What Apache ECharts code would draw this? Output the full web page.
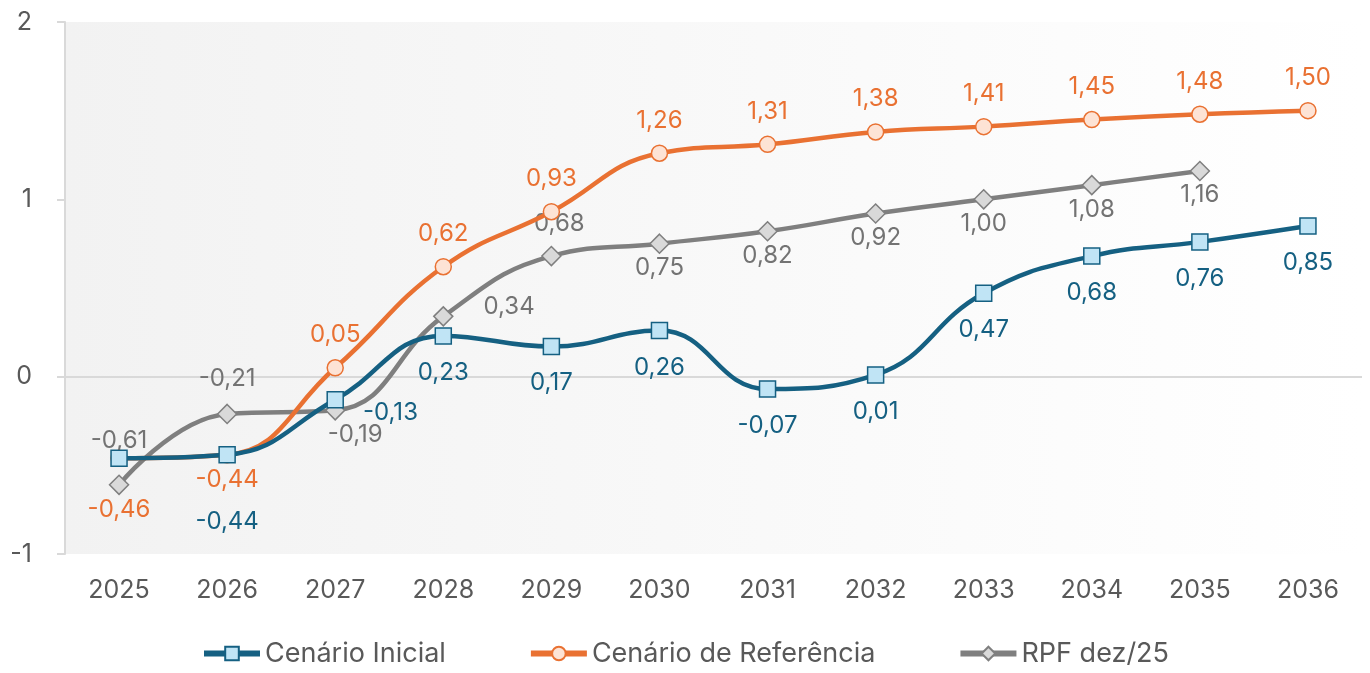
<!DOCTYPE html>
<html>
<head>
<meta charset="utf-8">
<script src="https://cdn.jsdelivr.net/npm/echarts@6/dist/echarts.min.js"></script>
<style>
  html, body { margin: 0; padding: 0; background: #fff; }
  #chart-container { width: 1370px; height: 673px; }
</style>
</head>
<body>
<div id="chart-container"></div>
<script>
var years = ["2025", "2026", "2027", "2028", "2029", "2030", "2031", "2032", "2033", "2034", "2035", "2036"];
var cenarioInicial = [-0.46, -0.44, -0.13, 0.23, 0.17, 0.26, -0.07, 0.01, 0.47, 0.68, 0.76, 0.85];
var cenarioReferencia = [-0.46, -0.44, 0.05, 0.62, 0.93, 1.26, 1.31, 1.38, 1.41, 1.45, 1.48, 1.50];
var rpfDez25 = [-0.61, -0.21, -0.19, 0.34, 0.68, 0.75, 0.82, 0.92, 1.00, 1.08, 1.16, "-"];
var yTicks = [-1, 0, 1, 2];

var FONT = "Inter, 'Open Sans', sans-serif";

// label placement tweaks per point (index -> label options)
var blueLabels = {
  0: { show: false },
  1: { position: "bottom", distance: 46 },
  2: { position: "right", distance: 5, offset: [14, 13] },
};
var orangeLabels = {
  0: { position: "bottom", distance: 31 },
  1: { position: "bottom", distance: 4 },
};
var grayLabels = {
  0: { position: "top", distance: 22 },
  1: { position: "top", distance: 13 },
  2: { position: "bottom", distance: 2, offset: [20, 0] },
  3: { position: "right", distance: 30, offset: [0, -10] },
  4: { position: "top", distance: 10, offset: [8, 0] },
};

function fmt(p) {
  return p.value.toFixed(2).replace(".", ",");
}

function buildData(values, tweaks) {
  return values.map(function (v, i) {
    if (tweaks[i]) return { value: v, label: tweaks[i] };
    return v;
  });
}

var dom = document.getElementById("chart-container");
var myChart = echarts.init(dom, null, { renderer: "canvas" });

var option = {
  textStyle: { fontFamily: FONT },
  grid: {
    left: 65,
    right: 8,
    top: 22,
    bottom: 119,
    show: true,
    borderWidth: 0,
    backgroundColor: new echarts.graphic.LinearGradient(0, 0, 1, 0, [
      { offset: 0, color: "#f2f2f2" },
      { offset: 1, color: "#ffffff" },
    ]),
  },
  legend: {
    bottom: 1,
    left: "center",
    itemWidth: 56,
    itemHeight: 17,
    itemGap: 82,
    lineStyle: { width: 6 },
    textStyle: { fontFamily: FONT, fontSize: 27, color: "#595959" },
    data: ["Cenário Inicial", "Cenário de Referência", "RPF dez/25"],
  },
  xAxis: {
    type: "category",
    data: years,
    boundaryGap: true,
    axisLine: { show: false },
    axisTick: { show: false },
    axisLabel: { fontFamily: FONT, fontSize: 25, color: "#595959", margin: 24 },
  },
  yAxis: {
    type: "value",
    min: yTicks[0],
    max: yTicks[yTicks.length - 1],
    interval: 1,
    axisLine: { show: true, lineStyle: { color: "#d9d9d9", width: 2 } },
    axisTick: { show: true, length: 8, lineStyle: { color: "#d9d9d9", width: 2 } },
    axisLabel: { fontFamily: FONT, fontSize: 25, color: "#595959", margin: 33 },
    splitLine: {
      show: true,
      lineStyle: { color: ["rgba(0,0,0,0)", "#d9d9d9", "rgba(0,0,0,0)", "rgba(0,0,0,0)"], width: 2 },
    },
  },
  series: [
    {
      name: "RPF dez/25",
      type: "line",
      smooth: 0.45,
      z: 2,
      data: buildData(rpfDez25, grayLabels),
      symbol: "diamond",
      symbolSize: 19,
      lineStyle: { color: "#7f7f7f", width: 4.5 },
      itemStyle: { color: "#d9d9d9", borderColor: "#7f7f7f", borderWidth: 1.5 },
      label: {
        show: true, position: "bottom", distance: 2, formatter: fmt,
        fontFamily: FONT, fontSize: 24, color: "#737373",
      },
    },
    {
      name: "Cenário de Referência",
      type: "line",
      smooth: 0.45,
      z: 3,
      data: buildData(cenarioReferencia, orangeLabels),
      symbol: "circle",
      symbolSize: 16,
      lineStyle: { color: "#e97132", width: 4.5 },
      itemStyle: { color: "#fde3d5", borderColor: "#e97132", borderWidth: 1.5 },
      label: {
        show: true, position: "top", distance: 12, formatter: fmt,
        fontFamily: FONT, fontSize: 24, color: "#e97132",
      },
    },
    {
      name: "Cenário Inicial",
      type: "line",
      smooth: 0.45,
      z: 4,
      data: buildData(cenarioInicial, blueLabels),
      symbol: "rect",
      symbolSize: 16,
      lineStyle: { color: "#156082", width: 4.5 },
      itemStyle: { color: "#c0e4f5", borderColor: "#156082", borderWidth: 1.5 },
      label: {
        show: true, position: "bottom", distance: 16, formatter: fmt,
        fontFamily: FONT, fontSize: 24, color: "#156082",
      },
    },
  ],
};

if (option && typeof option === "object") {
  myChart.setOption(option);
}
window.addEventListener("resize", myChart.resize);
</script>
</body>
</html>
